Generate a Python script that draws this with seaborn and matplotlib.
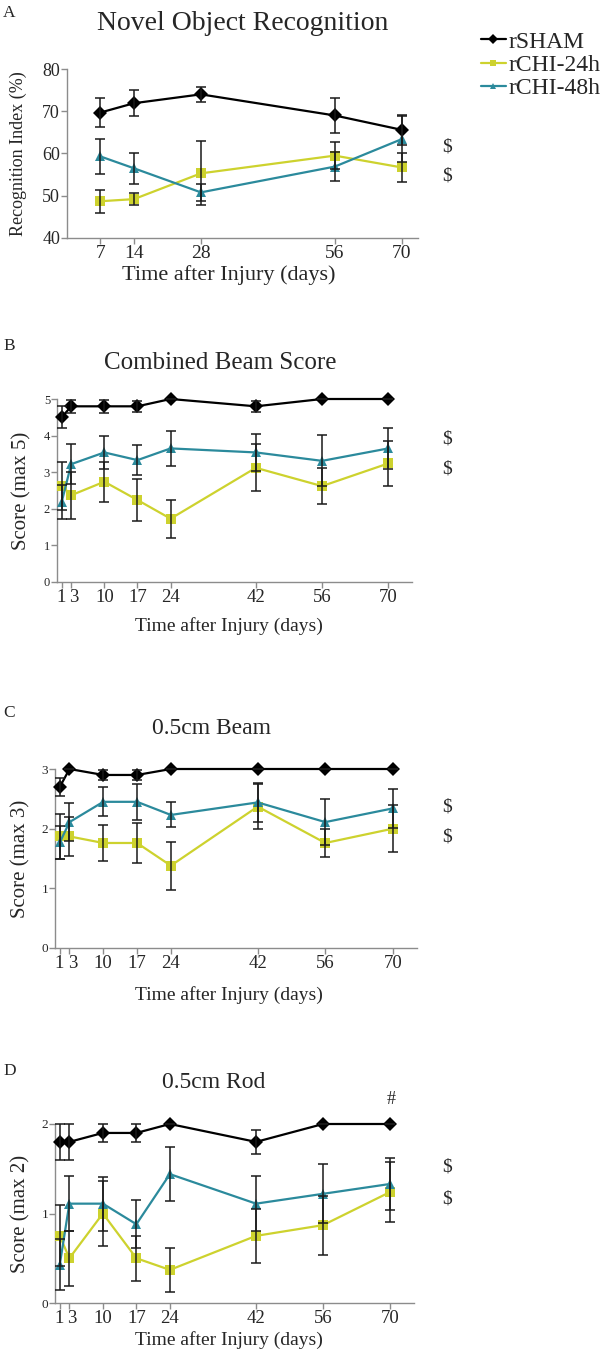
import numpy as np
import pandas as pd
import matplotlib
matplotlib.use('Agg')
import matplotlib.pyplot as plt
import matplotlib.transforms as mtrans
import seaborn as sns
from matplotlib.lines import Line2D

sns.set_theme(style='ticks')
plt.rcParams['font.family'] = ['Liberation Serif', 'DejaVu Serif']

groups = ['rSHAM', 'rCHI-24h', 'rCHI-48h']
colors = ['#000000', '#cdd22e', '#2b8a9c']
markers = ['D', 's', '^']

# Panel A: Novel Object Recognition
nor_days = [7, 14, 28, 56, 70]
nor_sham = [69.7, 71.9, 74.0, 69.0, 65.6]
nor_sham_err = [3.5, 3.1, 1.7, 4.2, 3.5]
nor_24 = [48.7, 49.2, 55.3, 59.5, 56.7]
nor_24_err = [2.7, 1.5, 7.6, 3.2, 3.5]
nor_48 = [59.3, 56.5, 50.8, 56.9, 63.4]
nor_48_err = [4.2, 3.7, 2.0, 3.4, 5.5]

# Beam / rod days
beam_days = [1, 3, 10, 17, 24, 42, 56, 70]

# Panel B: Combined Beam Score
cb_sham = [4.5, 4.8, 4.8, 4.8, 5.0, 4.8, 5.0, 5.0]
cb_sham_err = [0.3, 0.18, 0.18, 0.15, 0, 0.15, 0, 0]
cb_24 = [2.63, 2.37, 2.74, 2.24, 1.73, 3.12, 2.62, 3.24]
cb_24_err = [0.65, 0.64, 0.55, 0.58, 0.52, 0.64, 0.49, 0.61]
cb_48 = [2.19, 3.22, 3.54, 3.33, 3.65, 3.54, 3.31, 3.65]
cb_48_err = [0.47, 0.55, 0.46, 0.41, 0.48, 0.5, 0.7, 0.57]

# Panel C: 0.5cm Beam
bm_sham = [2.7, 3.0, 2.9, 2.9, 3.0, 3.0, 3.0, 3.0]
bm_sham_err = [0.15, 0, 0.08, 0.08, 0, 0, 0, 0]
bm_24 = [1.87, 1.87, 1.76, 1.76, 1.38, 2.37, 1.76, 2.0]
bm_24_err = [0.38, 0.33, 0.3, 0.34, 0.4, 0.38, 0.24, 0.39]
bm_48 = [1.77, 2.11, 2.45, 2.45, 2.23, 2.44, 2.11, 2.34]
bm_48_err = [0.27, 0.32, 0.24, 0.3, 0.21, 0.33, 0.39, 0.33]

# Panel D: 0.5cm Rod
rd_sham = [1.8, 1.8, 1.9, 1.9, 2.0, 1.8, 2.0, 2.0]
rd_sham_err = [0.2, 0.2, 0.1, 0.1, 0, 0.13, 0, 0]
rd_24 = [0.75, 0.5, 1.0, 0.5, 0.37, 0.75, 0.87, 1.24]
rd_24_err = [0.34, 0.31, 0.36, 0.25, 0.25, 0.3, 0.33, 0.33]
rd_48 = [0.43, 1.11, 1.11, 0.88, 1.44, 1.11, 1.22, 1.33]
rd_48_err = [0.28, 0.31, 0.3, 0.27, 0.3, 0.31, 0.33, 0.29]

W, H = 604, 1353
fig = plt.figure(figsize=(W / 100, H / 100), dpi=100)


def px_axes(left, top, right, bottom):
    return fig.add_axes([left / W, 1 - bottom / H, (right - left) / W, (bottom - top) / H])


def ftext(x, y, s, **kw):
    fig.text(x / W, 1 - y / H, s, ha='center', va='center', **kw)


def draw_panel(ax, days, series, errs, xlim, ylim, yticks, xticks,
               ylabel, xlabel, ytick_fs, xtick_fs, ylab_fs, xlab_fs,
               ylab_pad, xlab_pad, xlab_center_px):
    rows = []
    for g, vals in zip(groups, series):
        for d, v in zip(days, vals):
            rows.append({'day': d, 'value': v, 'group': g})
    df = pd.DataFrame(rows)
    sns.lineplot(data=df, x='day', y='value', hue='group', style='group',
                 hue_order=groups, style_order=groups,
                 palette=dict(zip(groups, colors)),
                 markers=dict(zip(groups, markers)), dashes=False,
                 markersize=7, markeredgewidth=0, linewidth=1.6,
                 legend=False, ax=ax, clip_on=False, zorder=3)
    for vals, e in zip(series, errs):
        ax.errorbar(days, vals, yerr=e, fmt='none', ecolor='#1a1a1a',
                    elinewidth=1.1, capsize=3.5, capthick=1.1,
                    zorder=4, clip_on=False)
    ax.set_xlim(*xlim)
    ax.set_ylim(*ylim)
    ax.set_yticks(yticks)
    ax.set_xticks(xticks)
    ax.set_xticklabels([str(t) for t in xticks])
    sns.despine(ax=ax)
    for sp in ['left', 'bottom']:
        ax.spines[sp].set_color('#8c8c8c')
        ax.spines[sp].set_linewidth(1.0)
    ax.tick_params(axis='both', direction='out', length=4, width=1.0,
                   color='#8c8c8c', pad=1)
    ax.tick_params(axis='y', labelsize=ytick_fs)
    ax.tick_params(axis='x', labelsize=xtick_fs)
    ax.set_ylabel(ylabel, fontsize=ylab_fs, labelpad=ylab_pad)
    ax.set_xlabel(xlabel, fontsize=xlab_fs, labelpad=xlab_pad)
    # horizontal placement of the x label (reference is left of axes centre)
    bb = ax.get_position()
    xc = (xlab_center_px / W - bb.x0) / bb.width
    ax.xaxis.label.set_x(xc)
    ax.set_facecolor('white')
    # spread the crowded "1" and "3" tick labels apart as in the reference
    if 1 in xticks and 3 in xticks:
        for tk in ax.xaxis.get_major_ticks():
            lab = tk.label1
            if lab.get_text() == '3':
                off = mtrans.ScaledTranslation(2.0 / 72, 0, fig.dpi_scale_trans)
                lab.set_transform(lab.get_transform() + off)
            elif lab.get_text() == '1':
                off = mtrans.ScaledTranslation(-0.5 / 72, 0, fig.dpi_scale_trans)
                lab.set_transform(lab.get_transform() + off)


xlab = 'Time after Injury (days)'

# Panel A
axA = px_axes(67, 69, 418, 238)
draw_panel(axA, nor_days, [nor_sham, nor_24, nor_48],
           [nor_sham_err, nor_24_err, nor_48_err],
           (0, 73.4), (40, 80), [40, 50, 60, 70, 80], nor_days,
           'Recognition Index (%)', xlab, 13, 14, 13, 16, 11, 2, 229)

# Panel B
axB = px_axes(57, 399, 412, 582)
draw_panel(axB, beam_days, [cb_sham, cb_24, cb_48],
           [cb_sham_err, cb_24_err, cb_48_err],
           (0, 75), (0, 5), [0, 1, 2, 3, 4, 5], beam_days,
           'Score (max 5)', xlab, 9, 13.5, 15, 14, 9, 8, 229)

# Panel C
axC = px_axes(55, 769, 417, 948)
draw_panel(axC, beam_days, [bm_sham, bm_24, bm_48],
           [bm_sham_err, bm_24_err, bm_48_err],
           (0, 75), (0, 3), [0, 1, 2, 3], beam_days,
           'Score (max 3)', xlab, 9.5, 13.5, 15, 14, 8, 10, 229)

# Panel D
axD = px_axes(55, 1124, 414, 1303)
draw_panel(axD, beam_days, [rd_sham, rd_24, rd_48],
           [rd_sham_err, rd_24_err, rd_48_err],
           (0, 75), (0, 2), [0, 1, 2], beam_days,
           'Score (max 2)', xlab, 9.5, 13.5, 15, 14, 8, 3, 229)

# Titles and panel letters
ftext(243, 23, 'Novel Object Recognition', fontsize=20)
ftext(220, 363, 'Combined Beam Score', fontsize=18)
ftext(212, 729, '0.5cm Beam', fontsize=17)
ftext(214, 1082, '0.5cm Rod', fontsize=17)
for lab, y in zip(['A', 'B', 'C', 'D'], [13, 346, 713, 1071]):
    fig.text(3 / W, 1 - y / H, lab, ha='left', va='center', fontsize=12.5)

# Significance markers
for y in [147, 176, 439, 469, 807, 837, 1167, 1199]:
    ftext(447, y, '$', fontsize=14)
ftext(391, 1099, '#', fontsize=13)

# Legend
handles = [Line2D([0], [0], color=c, marker=m, markersize=5, linewidth=1.6,
                  markeredgewidth=0) for c, m in zip(colors, markers)]
fig.legend(handles, groups, loc='upper left',
           bbox_to_anchor=(481 / W, 1 - 31 / H), frameon=False,
           fontsize=17, handlelength=1.05, handletextpad=0.12,
           labelspacing=0.08, borderpad=0, borderaxespad=0)

fig.savefig('out.png', dpi=100, facecolor='white')
